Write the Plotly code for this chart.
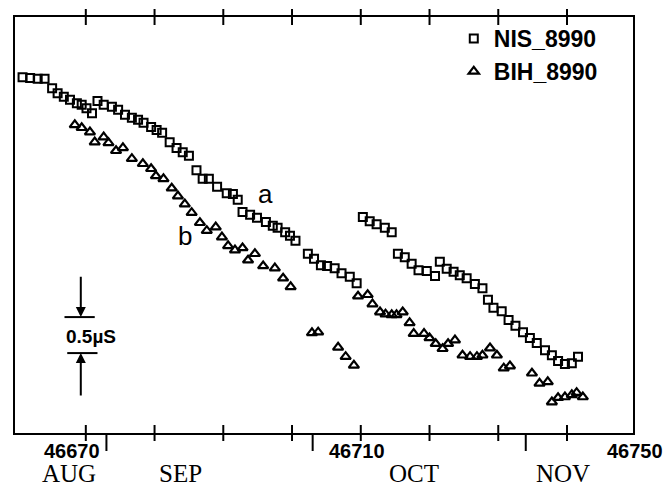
import plotly.graph_objects as go

# ---- data (MJD, microseconds, arbitrary offset) ----
nis_mjd = [46660.8, 46661.9, 46663.0, 46664.0, 46665.1, 46665.9, 46666.8, 46667.7, 46668.7, 46669.4, 46670.1, 46670.9,
           46671.7, 46672.6, 46673.8, 46674.7, 46675.7, 46676.7, 46677.6, 46678.4, 46679.5, 46680.3, 46681.1, 46682.2,
           46683.2, 46684.1, 46685.0,
           46686.1, 46687.0, 46687.9, 46689.1, 46690.5, 46691.4, 46692.1,
           46692.8, 46693.9, 46694.9, 46696.2, 46697.2, 46697.9, 46699.0, 46699.7, 46700.5,
           46702.3, 46703.2, 46704.2, 46705.1, 46706.2, 46707.2, 46708.4, 46709.4,
           46710.3, 46711.3, 46712.3, 46713.5, 46714.5,
           46715.4, 46716.4, 46717.4, 46718.4, 46719.6, 46720.8,
           46721.5, 46722.5, 46723.5, 46724.4, 46725.4, 46726.6, 46727.7,
           46728.5, 46729.3, 46730.5, 46731.5, 46732.5, 46733.6, 46734.6, 46735.6, 46736.8, 46737.8, 46738.7,
           46739.7, 46740.7, 46741.6]
nis_us = [4.94, 4.93, 4.92, 4.92, 4.79, 4.72, 4.67, 4.63, 4.58, 4.56, 4.51, 4.44,
          4.61, 4.56, 4.53, 4.49, 4.42, 4.38, 4.35, 4.31, 4.25, 4.21, 4.17, 4.04, 3.96, 3.90, 3.85,
          3.65, 3.53, 3.53, 3.42, 3.33, 3.32, 3.24,
          3.07, 3.03, 2.99, 2.93, 2.88, 2.85, 2.79, 2.74, 2.67,
          2.49, 2.42, 2.33, 2.32, 2.29, 2.22, 2.17, 2.08,
          3.00, 2.94, 2.90, 2.85, 2.79,
          2.49, 2.44, 2.35, 2.26, 2.25, 2.18,
          2.38, 2.28, 2.24, 2.19, 2.15, 2.07, 2.01,
          1.85, 1.74, 1.69, 1.57, 1.49, 1.40, 1.32, 1.25, 1.15, 1.08, 1.00, 0.96, 0.97, 1.06]

bih_mjd = [46668.4, 46669.4, 46670.6, 46671.3, 46672.6, 46673.3, 46674.4, 46675.4, 46676.7, 46678.3,
           46679.5, 46680.2, 46681.3, 46682.5, 46683.4, 46684.4, 46685.4, 46686.6, 46687.6, 46688.9,
           46689.8, 46690.7, 46691.7, 46692.8, 46693.6, 46694.6, 46695.8, 46697.5, 46698.7, 46699.8,
           46702.9, 46703.8, 46706.7, 46707.8, 46709.0,
           46709.6, 46711.0, 46711.7, 46712.8, 46713.6, 46714.5, 46715.2, 46716.1, 46717.1, 46717.7,
           46719.2, 46720.0, 46720.9, 46721.9, 46722.7, 46723.7,
           46724.8, 46725.9, 46726.9, 46727.7, 46728.8, 46729.8,
           46730.8, 46731.7,
           46734.9, 46736.0, 46737.2,
           46737.8, 46738.7, 46739.7, 46740.7, 46741.4, 46742.3]
bih_us = [4.28, 4.24, 4.18, 4.04, 4.11, 4.03, 3.92, 3.96, 3.81, 3.74,
          3.67, 3.57, 3.53, 3.40, 3.29, 3.18, 3.06, 2.92, 2.81, 2.86,
          2.72, 2.60, 2.54, 2.57, 2.40, 2.49, 2.32, 2.29, 2.15, 2.03,
          1.39, 1.40, 1.19, 1.06, 0.94,
          1.90, 1.92, 1.79, 1.68, 1.65, 1.64, 1.64, 1.68, 1.53, 1.38,
          1.38, 1.32, 1.24, 1.17, 1.24, 1.29,
          1.08, 1.06, 1.06, 1.08, 1.18, 1.08,
          0.90, 0.93,
          0.83, 0.69, 0.71,
          0.43, 0.49, 0.50, 0.53, 0.56, 0.50]

tick_days = [46670, 46680, 46690, 46700, 46710, 46720, 46730, 46740]
month_start_days = [46673, 46703, 46734]
day_labels = ["46670", "46710", "46750"]
day_label_x = [46668.0, 46709.4, 46749.9]
month_labels = ["AUG", "SEP", "OCT", "NOV"]
month_label_x = [46667.5, 46683.8, 46717.7, 46739.4]

X_RANGE = [46659.7, 46749.6]
Y_RANGE = [0, 5.778]
PLOT_H = 416.0


def xpaper(d):
    return (d - X_RANGE[0]) / (X_RANGE[1] - X_RANGE[0])


fig = go.Figure()
fig.add_trace(go.Scatter(
    x=nis_mjd, y=nis_us, mode="markers", name="NIS_8990",
    marker=dict(symbol="square-open", size=8, color="black", line=dict(width=2, color="black"))))
fig.add_trace(go.Scatter(
    x=bih_mjd, y=bih_us, mode="markers", name="BIH_8990",
    marker=dict(symbol="triangle-up-open", size=9, color="black", line=dict(width=2.2, color="black"))))

shapes = []
for d in tick_days:
    for yc in (0.0, 1.0):
        shapes.append(dict(type="line", xref="x", yref="paper", x0=d, x1=d,
                           y0=yc - 8 / PLOT_H, y1=yc + 8 / PLOT_H,
                           line=dict(color="black", width=2)))
for d in month_start_days:
    shapes.append(dict(type="line", xref="x", yref="paper", x0=d, x1=d,
                       y0=-18 / PLOT_H, y1=0, line=dict(color="black", width=2)))

# scale bar (0.5 us)
bar_x0, bar_x1 = 46666.9, 46671.3
bar_lo, bar_hi = 1.11, 1.61
shapes.append(dict(type="line", xref="x", yref="y", x0=bar_x0, x1=bar_x1, y0=bar_hi, y1=bar_hi,
                   line=dict(color="black", width=2)))
shapes.append(dict(type="line", xref="x", yref="y", x0=bar_x0 + 0.4, x1=bar_x1 + 0.4, y0=bar_lo, y1=bar_lo,
                   line=dict(color="black", width=2)))

annotations = []
for t, x in zip(day_labels, day_label_x):
    annotations.append(dict(text=t, x=xpaper(x), xref="paper", y=-18 / PLOT_H, yref="paper",
                            showarrow=False, xanchor="center", yanchor="middle",
                            font=dict(family="Liberation Sans", size=20, color="black", weight="bold")))
for t, x in zip(month_labels, month_label_x):
    annotations.append(dict(text=t, x=xpaper(x), xref="paper", y=-40 / PLOT_H, yref="paper",
                            showarrow=False, xanchor="center", yanchor="middle",
                            font=dict(family="Liberation Serif", size=25, color="black")))
arrow_x = 46669.27
annotations.append(dict(x=arrow_x, y=bar_hi, ax=arrow_x, ay=2.19, xref="x", yref="y", axref="x", ayref="y",
                        showarrow=True, arrowhead=2, arrowsize=1, arrowwidth=2, arrowcolor="black", text=""))
annotations.append(dict(x=arrow_x, y=bar_lo, ax=arrow_x, ay=0.50, xref="x", yref="y", axref="x", ayref="y",
                        showarrow=True, arrowhead=2, arrowsize=1, arrowwidth=2, arrowcolor="black", text=""))
annotations.append(dict(text="0.5µS", x=46670.7, y=1.34, xref="x", yref="y", showarrow=False,
                        xanchor="center", yanchor="middle",
                        font=dict(family="Liberation Sans", size=19, color="black", weight="bold")))
annotations.append(dict(text="a", x=46696.1, y=3.32, xref="x", yref="y", showarrow=False,
                        xanchor="center", yanchor="middle",
                        font=dict(family="Liberation Sans", size=26, color="black")))
annotations.append(dict(text="b", x=46684.5, y=2.74, xref="x", yref="y", showarrow=False,
                        xanchor="center", yanchor="middle",
                        font=dict(family="Liberation Sans", size=26, color="black")))

fig.update_layout(
    width=665, height=490,
    margin=dict(l=15, r=32, t=17, b=57),
    plot_bgcolor="white", paper_bgcolor="white",
    showlegend=True,
    legend=dict(x=0.71, y=1.0, xanchor="left", yanchor="top", bgcolor="rgba(0,0,0,0)",
                font=dict(family="Liberation Sans", size=23, color="black", weight="bold"),
                itemsizing="trace", tracegroupgap=0),
    shapes=shapes, annotations=annotations,
    xaxis=dict(range=X_RANGE, showgrid=False, zeroline=False, showline=True, mirror=True,
               linecolor="black", linewidth=2, showticklabels=False, ticks=""),
    yaxis=dict(range=Y_RANGE, showgrid=False, zeroline=False, showline=True, mirror=True,
               linecolor="black", linewidth=2, showticklabels=False, ticks=""),
)

fig.write_html("out.html", config={"displayModeBar": False},
               post_script="document.body.style.margin='0px';document.body.style.overflow='hidden';")
